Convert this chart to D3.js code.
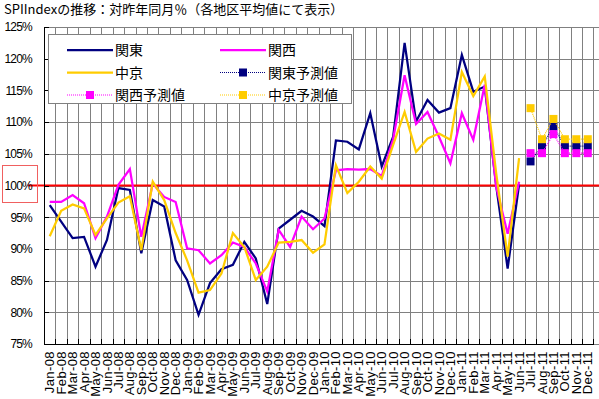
<!doctype html>
<html>
  <head>
    <meta charset="utf-8">
    <script src="https://cdnjs.cloudflare.com/ajax/libs/d3/7.8.5/d3.min.js"></script>
    <style>
      body { margin: 0; background: #fff; }
      svg { display: block; }
      .grid line { stroke: #808080; stroke-width: 1; shape-rendering: crispEdges; }
      .grid path { display: none; }
      .axis path, .axis line { stroke: #000; shape-rendering: crispEdges; }
      .axis text { font-family: "Liberation Sans", Arial, sans-serif; fill: #000; }
      .jp { font-family: "Noto Sans CJK JP", sans-serif; fill: #000; }
    </style>
  </head>
  <body>
    <svg id="chart" width="599" height="399"></svg>
    <script>
      // months on the x axis
      var months = [];
      ["08", "09", "10", "11"].forEach(function (yy) {
        ["Jan","Feb","Mar","Apr","May","Jun","Jul","Aug","Sep","Oct","Nov","Dec"].forEach(function (m) {
          months.push(m + "-" + yy);
        });
      });

      // actual values (%), Jan-08 .. Jun-11
      var kanto = [96.9, 94.3, 91.7, 91.9, 87.2, 91.4, 99.6, 99.3, 89.3, 97.7, 96.7, 88.2,
                   85.1, 79.6, 84.6, 86.8, 87.5, 91.1, 88.5, 81.3, 93.2, 94.6, 96.0, 95.1,
                   93.6, 107.1, 106.9, 105.7, 111.4, 103.0, 107.7, 122.5, 110.1, 113.5, 111.5, 112.2,
                   120.6, 114.8, 115.6, 100.0, 86.9, 100.2];
      var kansai = [97.4, 97.4, 98.5, 97.2, 91.7, 95.1, 100.1, 102.6, 91.9, 100.3, 98.2, 97.4,
                    90.1, 89.8, 87.7, 89.0, 91.0, 90.3, 87.7, 83.3, 93.0, 90.3, 95.1, 93.1,
                    94.8, 102.4, 102.6, 102.5, 102.6, 101.5, 107.3, 117.4, 109.7, 111.6, 107.7, 103.5,
                    111.4, 107.2, 115.9, 99.8, 92.4, 100.6];
      var chukyo = [92.0, 96.0, 97.0, 96.4, 92.2, 94.8, 97.3, 98.3, 89.8, 100.6, 97.7, 92.5,
                    88.2, 83.1, 83.5, 86.1, 92.5, 90.3, 85.1, 87.2, 91.0, 91.1, 91.4, 89.4,
                    90.7, 103.2, 98.8, 100.6, 103.0, 101.1, 106.4, 111.6, 105.3, 107.4, 108.2, 107.2,
                    117.9, 114.1, 117.2, 101.9, 88.8, 104.3];

      // forecasts, Jul-11 .. Dec-11
      var kantoF  = [103.8, 106.2, 109.3, 106.2, 106.2, 106.2];
      var kansaiF = [105.1, 105.1, 108.1, 105.1, 105.1, 105.1];
      var chukyoF = [112.2, 107.3, 110.5, 107.3, 107.3, 107.3];

      var yTicks = [75, 80, 85, 90, 95, 100, 105, 110, 115, 120, 125];

      var title = "SPIIndexの推移：対昨年同月％（各地区平均値にて表示）";

      var colors = { kanto: "#000080", kansai: "#FF00FF", chukyo: "#FFCC00" };

      var svg = d3.select("#chart");
      var padL = 44, padR = 593.5, padT = 27, padB = 344;

      var x = d3.scaleBand().domain(months).range([padL, padR]);
      var y = d3.scaleLinear().domain([75, 125]).range([padB, padT]);

      // horizontal gridlines
      svg.append("g").attr("class", "grid")
        .attr("transform", "translate(" + padL + ",0)")
        .call(d3.axisRight(y).tickValues(yTicks).tickSize(599 - padL).tickFormat(""));

      // vertical gridlines at category boundaries
      var bounds = months.map(function (m) { return x(m); }).concat([x(months[months.length - 1]) + x.step()]);
      svg.append("g").attr("class", "grid").selectAll("line")
        .data(bounds.slice(1)).enter().append("line")
        .attr("x1", function (d) { return Math.round(d) + 0.5; })
        .attr("x2", function (d) { return Math.round(d) + 0.5; })
        .attr("y1", padT).attr("y2", padB);

      // 100% reference line
      svg.append("line")
        .attr("x1", 28).attr("x2", 599)
        .attr("y1", y(100)).attr("y2", y(100))
        .attr("stroke", "#FF0000").attr("stroke-width", 2);

      function toPoints(vals, offset) {
        return vals.map(function (v, i) { return { m: months[i + offset], v: v }; });
      }
      var line = d3.line()
        .x(function (d) { return x(d.m) + x.bandwidth() / 2; })
        .y(function (d) { return y(d.v); });

      [["kanto", kanto], ["kansai", kansai], ["chukyo", chukyo]].forEach(function (s) {
        svg.append("path").datum(toPoints(s[1], 0))
          .attr("d", line).attr("fill", "none")
          .attr("stroke", colors[s[0]]).attr("stroke-width", 2.25);
      });

      var fOffset = months.indexOf("Jul-11");
      [["kanto", kantoF], ["kansai", kansaiF], ["chukyo", chukyoF]].forEach(function (s) {
        var pts = toPoints(s[1], fOffset);
        svg.append("path").datum(pts)
          .attr("d", line).attr("fill", "none")
          .attr("stroke", colors[s[0]]).attr("stroke-width", 1.2)
          .attr("stroke-dasharray", "1,1");
        svg.append("g").selectAll("rect").data(pts).enter().append("rect")
          .attr("x", function (d) { return x(d.m) + x.bandwidth() / 2 - 4; })
          .attr("y", function (d) { return y(d.v) - 4; })
          .attr("width", 8).attr("height", 8)
          .attr("fill", colors[s[0]]);
      });

      // y axis
      var yAxis = svg.append("g").attr("class", "axis")
        .attr("transform", "translate(" + padL + ",0)")
        .call(d3.axisLeft(y).tickValues(yTicks).tickSizeInner(-5).tickSizeOuter(0).tickPadding(12)
          .tickFormat(function (d) { return d + "%"; }));
      yAxis.selectAll("text").style("font-size", "12px").style("letter-spacing", "-0.8px");

      // x axis
      var xAxis = svg.append("g").attr("class", "axis")
        .attr("transform", "translate(0," + padB + ")")
        .call(d3.axisBottom(x).tickSize(0).tickPadding(0));
      xAxis.selectAll("text")
        .style("font-size", "13px").style("letter-spacing", "0.4px")
        .attr("text-anchor", "end")
        .attr("dy", "0.35em")
        .attr("transform", "translate(0,7) rotate(-90)")
        .attr("x", 0).attr("y", 0);
      // ticks on the x axis at boundaries
      svg.append("g").selectAll("line").data(bounds).enter().append("line")
        .attr("x1", function (d) { return Math.round(d) + 0.5; })
        .attr("x2", function (d) { return Math.round(d) + 0.5; })
        .attr("y1", padB).attr("y2", padB - 5)
        .attr("stroke", "#000");

      // title
      svg.append("text").attr("class", "jp")
        .attr("x", 4).attr("y", 14)
        .style("font-size", "13px")
        .text(title);

      // legend
      var lg = svg.append("g");
      lg.append("rect")
        .attr("x", 48.5).attr("y", 34.5).attr("width", 303).attr("height", 69)
        .attr("fill", "#fff").attr("stroke", "#808080");
      var legendItems = [
        { name: "関東", key: "kanto", f: false, col: 0, row: 0 },
        { name: "関西", key: "kansai", f: false, col: 1, row: 0 },
        { name: "中京", key: "chukyo", f: false, col: 0, row: 1 },
        { name: "関東予測値", key: "kanto", f: true, col: 1, row: 1 },
        { name: "関西予測値", key: "kansai", f: true, col: 0, row: 2 },
        { name: "中京予測値", key: "chukyo", f: true, col: 1, row: 2 }
      ];
      legendItems.forEach(function (it) {
        var lx = it.col === 0 ? 67 : 220;
        var ly = 50 + it.row * 22.5;
        var g = lg.append("g");
        g.append("line")
          .attr("x1", lx).attr("x2", lx + 46).attr("y1", ly).attr("y2", ly)
          .attr("stroke", colors[it.key])
          .attr("stroke-width", it.f ? 1.2 : 2.25)
          .attr("stroke-dasharray", it.f ? "1,1" : null);
        if (it.f) {
          g.append("rect").attr("x", lx + 19).attr("y", ly - 4)
            .attr("width", 8).attr("height", 8).attr("fill", colors[it.key]);
        }
        g.append("text").attr("class", "jp")
          .attr("x", lx + 48).attr("y", ly)
          .attr("dy", "0.36em")
          .style("font-size", "14px")
          .text(it.name);
      });

      // highlight box around the 100% label
      svg.append("rect")
        .attr("x", 2.5).attr("y", 165.5).attr("width", 35).attr("height", 37)
        .attr("fill", "none").attr("stroke", "#F06060").attr("stroke-width", 1);
    </script>
  </body>
</html>
